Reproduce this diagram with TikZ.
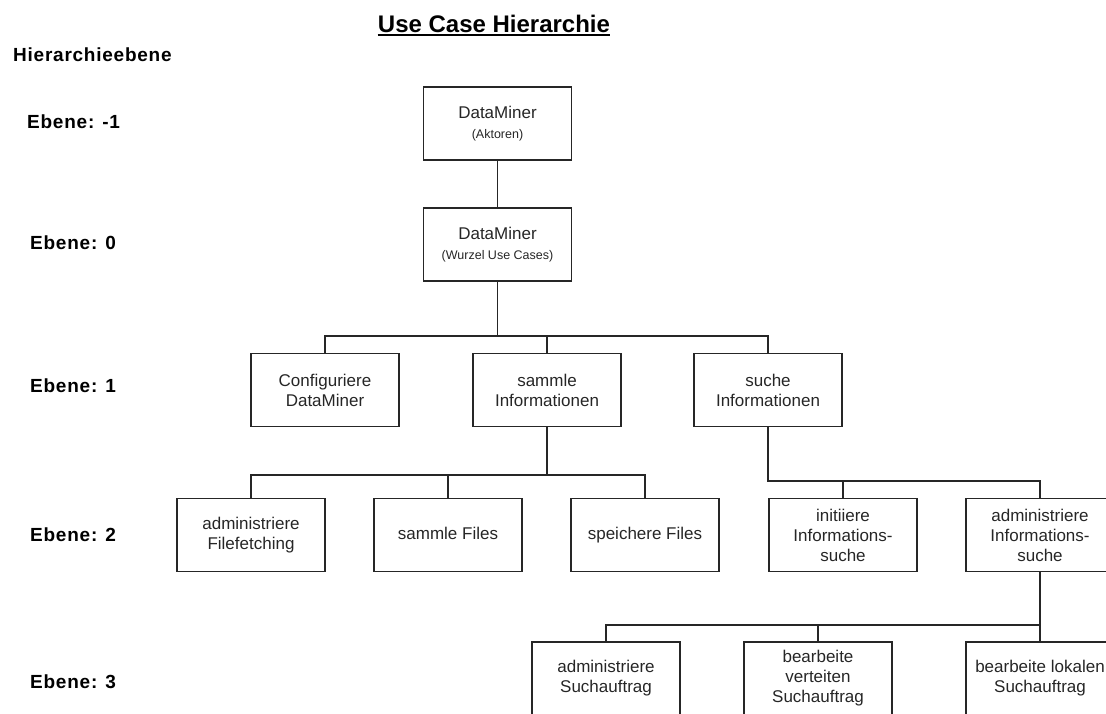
\documentclass[tikz,border=0pt]{standalone}
\usepackage{fontspec}
\setmainfont{Liberation Sans}
\newfontfamily\labelfont[LetterSpace=4]{Liberation Sans}
\begin{document}
\begin{tikzpicture}[x=1pt,y=-1pt,
  ucbox/.style={draw=black!85, line width=1.2pt, minimum width=148pt, minimum height=73pt,
    inner sep=0pt, align=center, text=black!85, font=\fontsize{17}{20}\selectfont},
  levellabel/.style={anchor=base west, inner sep=0pt, font=\labelfont\bfseries\fontsize{19}{22}\selectfont},
  link/.style={draw=black!85, line width=1.2pt}]
  \useasboundingbox (0,0) rectangle (1106,713);
  \clip (0,0) rectangle (1106,713);

  % title and level captions
  \node[anchor=base, inner sep=0pt, font=\bfseries\fontsize{24}{28}\selectfont] (title) at (494,32) {Use Case Hierarchie};
  \draw[line width=2pt] ([yshift=-2.5pt]title.base west) -- ([yshift=-2.5pt]title.base east);
  \node[levellabel] (hdr) at (13,61) {Hierarchieebene};
  \node[levellabel] (lm1) at (27,128) {Ebene: -1};
  \node[levellabel] (l0) at (30,249) {Ebene: 0};
  \node[levellabel] (l1) at (30,392) {Ebene: 1};
  \node[levellabel] (l2) at (30,541) {Ebene: 2};
  \node[levellabel] (l3) at (30,688) {Ebene: 3};

  % use case boxes
  \node[ucbox] (akt) at (497.5,123.5) {DataMiner\\{\fontsize{12.5}{14}\selectfont (Aktoren)}};
  \node[ucbox] (wur) at (497.5,244.5) {DataMiner\\{\fontsize{12.5}{14}\selectfont (Wurzel Use Cases)}};

  \node[ucbox] (cfg) at (325,390) {Configuriere\\DataMiner};
  \node[ucbox] (sam) at (547,390) {sammle\\Informationen};
  \node[ucbox] (suc) at (768,390) {suche\\Informationen};

  \node[ucbox] (aff) at (251,535) {administriere\\Filefetching};
  \node[ucbox] (saf) at (448,535) {\strut sammle Files};
  \node[ucbox] (spf) at (645,535) {\strut speichere Files};
  \node[ucbox] (iis) at (843,535) {initiiere\\Informations-\\suche};
  \node[ucbox] (ais) at (1040,535) {administriere\\Informations-\\suche};

  \node[ucbox] (asa) at (606,678.5) {administriere\\Suchauftrag};
  \node[ucbox] (bvs) at (818,678.5) {bearbeite\\verteiten\\Suchauftrag};
  \node[ucbox] (bls) at (1040,678.5) {bearbeite lokalen\\Suchauftrag};

  % junction heights of the tree connectors
  \coordinate (j1) at (497.5,336);
  \coordinate (j2) at (547,475);
  \coordinate (j3) at (768,481);
  \coordinate (j4) at (1040,625);

  % connectors
  \draw[link] (akt.south) -- (wur.north);
  \draw[link] (wur.south) -- (j1);
  \draw[link] (cfg.north) |- (suc.north |- j1) -- (suc.north);
  \draw[link] (sam.north) -- (sam.north |- j1);

  \draw[link] (sam.south) -- (j2);
  \draw[link] (aff.north) |- (spf.north |- j2) -- (spf.north);
  \draw[link] (saf.north) -- (saf.north |- j2);

  \draw[link] (suc.south) |- (ais.north |- j3) -- (ais.north);
  \draw[link] (iis.north) -- (iis.north |- j3);

  \draw[link] (ais.south) -- (bls.north);
  \draw[link] (asa.north) |- (j4);
  \draw[link] (bvs.north) -- (bvs.north |- j4);
\end{tikzpicture}
\end{document}
